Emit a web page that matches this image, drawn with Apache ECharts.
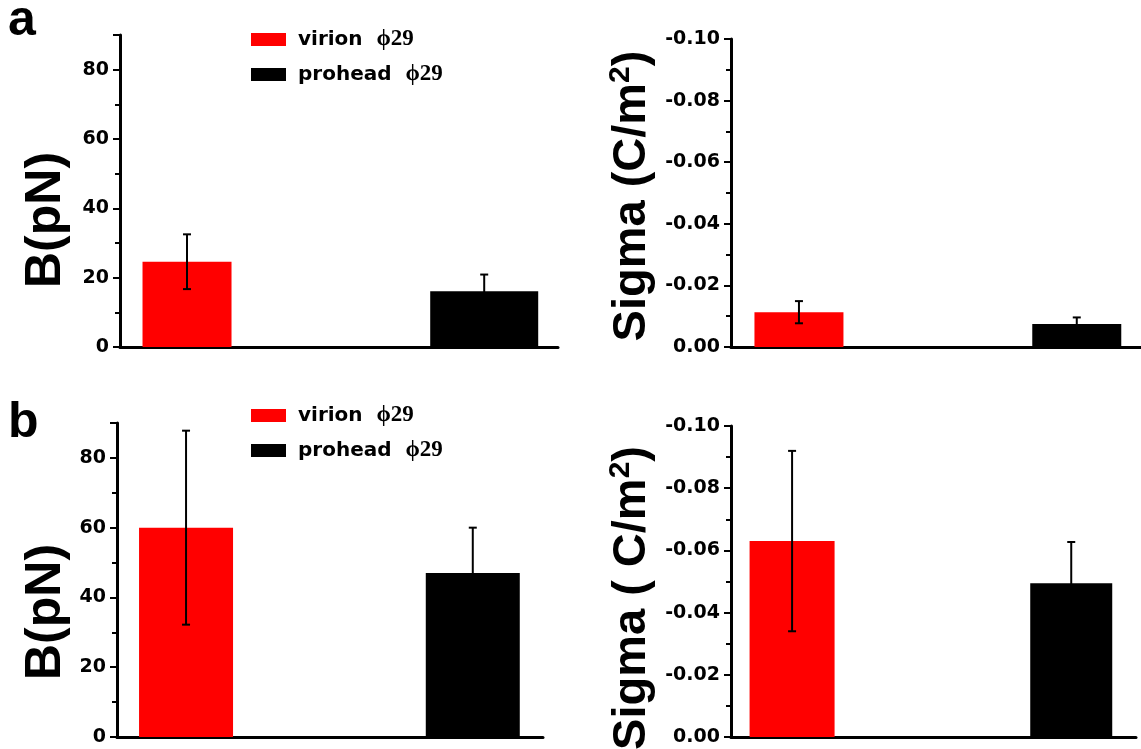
<!DOCTYPE html>
<html>
<head>
<meta charset="utf-8">
<script src="https://cdn.jsdelivr.net/npm/echarts@6/dist/echarts.min.js"></script>
<style>
  html, body { margin: 0; padding: 0; background: #fff; }
  #chart { width: 1141px; height: 749px; }
</style>
</head>
<body>
<div id="chart"></div>
<script>
// groups (one bar each per panel)
const groups = ['virion ϕ29', 'prohead ϕ29']
const groupPos = [1, 2]

// panel a
const bA = [24.6, 16.1]
const bAErr = [7.9, 4.8]
const sigmaA = [-0.0113, -0.0075]
const sigmaAErr = [0.0036, 0.0021]

// panel b
const bB = [60, 47]
const bBErr = [27.8, 13]
const sigmaB = [-0.063, -0.0494]
const sigmaBErr = [0.029, 0.0133]

// y axis ranges / ticks
const bAxis = { min: 0, max: 90, interval: 20 }
const sigmaAxis = { min: -0.1, max: 0, interval: 0.02 }

const colors = ['#ff0000', '#000000']
const tickFont = { fontFamily: 'DejaVu Sans', fontWeight: 'bold', fontSize: 19, color: '#000' }

const panels = [
    { grid: { left: 120, top: 35, width: 438, height: 312 }, xr: [0.7745, 2.2483], widths: [89, 108], vals: bA, errs: bAErr, y: 'b' },
    { grid: { left: 731, top: 39, width: 410, height: 308 }, xr: [0.7554, 2.2312], widths: [89, 89], vals: sigmaA, errs: sigmaAErr, y: 'sigma' },
    { grid: { left: 117, top: 423, width: 426, height: 314 }, xr: [0.7592, 2.2449], widths: [94, 94], vals: bB, errs: bBErr, y: 'b' },
    { grid: { left: 731, top: 426, width: 405, height: 311 }, xr: [0.7812, 2.2320], widths: [85, 82], vals: sigmaB, errs: sigmaBErr, y: 'sigma' }
]

// bar drawn from baseline 0 to value, fixed pixel width
function barRender(width) {
    return function (params, api) {
        const x = api.value(0)
        const top = api.coord([x, api.value(1)])
        const base = api.coord([x, 0])
        return {
            type: 'rect',
            shape: { x: top[0] - width / 2, y: Math.min(top[1], base[1]), width: width, height: Math.abs(base[1] - top[1]) },
            style: { fill: api.visual('color') }
        }
    }
}

function errorBar(params, api) {
    const x = api.value(0)
    const lo = api.coord([x, api.value(1)])
    const hi = api.coord([x, api.value(2)])
    const cap = 4
    const st = { stroke: '#000', lineWidth: 2 }
    return {
        type: 'group',
        children: [
            { type: 'line', shape: { x1: lo[0], y1: lo[1], x2: hi[0], y2: hi[1] }, style: st },
            { type: 'line', shape: { x1: hi[0] - cap, y1: hi[1], x2: hi[0] + cap, y2: hi[1] }, style: st },
            { type: 'line', shape: { x1: lo[0] - cap, y1: lo[1], x2: lo[0] + cap, y2: lo[1] }, style: st }
        ]
    }
}

const grid = [], xAxis = [], yAxis = [], series = []
panels.forEach((p, i) => {
    grid.push(p.grid)
    xAxis.push({
        type: 'value', gridIndex: i, min: p.xr[0], max: p.xr[1],
        axisLine: { show: true, onZero: false, lineStyle: { color: '#000', width: 3 } },
        axisTick: { show: false }, axisLabel: { show: false }, splitLine: { show: false }
    })
    const isB = p.y === 'b'
    const ax = isB ? bAxis : sigmaAxis
    yAxis.push({
        type: 'value', gridIndex: i, min: ax.min, max: ax.max, interval: ax.interval,
        inverse: !isB,
        axisLine: { show: true, onZero: false, lineStyle: { color: '#000', width: 3 } },
        axisTick: { show: true, length: 7, lineStyle: { color: '#000', width: 2 } },
        minorTick: { show: true, splitNumber: 2, length: 5, lineStyle: { color: '#000', width: 2 } },
        splitLine: { show: false },
        axisLabel: Object.assign({
            margin: 11,
            formatter: isB ? (v => (v % 20 === 0 ? String(v) : '')) : (v => v.toFixed(2))
        }, tickFont)
    })
    groups.forEach((g, k) => {
        series.push({
            name: g, type: 'custom', xAxisIndex: i, yAxisIndex: i,
            renderItem: barRender(p.widths[k]),
            itemStyle: { color: colors[k] },
            encode: { x: 0, y: 1 },
            data: [[groupPos[k], p.vals[k]]],
            z: 2
        })
    })
    series.push({
        name: 'err', type: 'custom', xAxisIndex: i, yAxisIndex: i,
        renderItem: errorBar, z: 5,
        encode: { x: 0, y: [1, 2] },
        data: groups.map((g, k) => [groupPos[k], p.vals[k] - p.errs[k], p.vals[k] + p.errs[k]])
    })
})

const legendText = {
    padding: [0, 0, 0, 7],
    rich: {
        w: { fontFamily: 'DejaVu Sans', fontWeight: 'bold', fontSize: 20, lineHeight: 13, color: '#000' },
        p: { fontFamily: 'Liberation Serif', fontWeight: 'bold', fontSize: 23, lineHeight: 13, color: '#000' }
    }
}
function legendFmt(name) {
    const parts = name.split(' ')
    return '{w|' + parts[0] + '  }{p|' + parts[1] + '}'
}
function legendAt(top) {
    return {
        data: groups, orient: 'vertical', left: 251, top: top, padding: 0,
        itemWidth: 35, itemHeight: 13, itemGap: 12, icon: 'rect',
        selectedMode: false, formatter: legendFmt, textStyle: legendText
    }
}

const nameFont = 'bold 50px "Liberation Sans"'
const sigmaRich = {
    n: { fontFamily: 'Liberation Sans', fontWeight: 'bold', fontSize: 47, lineHeight: 52, color: '#000' },
    s: { fontFamily: 'Liberation Sans', fontWeight: 'bold', fontSize: 30, lineHeight: 52, verticalAlign: 'top', color: '#000' }
}
function yName(text, x, y) {
    return { type: 'text', x: x, y: y, rotation: Math.PI / 2,
        style: { text: text, font: nameFont, fill: '#000', align: 'center', verticalAlign: 'middle' } }
}
function sigmaName(text, x, y) {
    return { type: 'text', x: x, y: y, rotation: Math.PI / 2,
        style: { text: text, rich: sigmaRich, fill: '#000', align: 'center', verticalAlign: 'middle' } }
}

const chart = echarts.init(document.getElementById('chart'))
chart.setOption({
    animation: false,
    backgroundColor: '#fff',
    legend: [legendAt(28), legendAt(404)],
    grid: grid,
    xAxis: xAxis,
    yAxis: yAxis,
    series: series,
    graphic: [
        { type: 'text', x: 8, y: 21, style: { text: 'a', font: 'bold 50px "Liberation Sans"', fill: '#000', verticalAlign: 'middle' } },
        { type: 'text', x: 8, y: 423, style: { text: 'b', font: 'bold 50px "Liberation Sans"', fill: '#000', verticalAlign: 'middle' } },
        yName('B(pN)', 46, 220),
        yName('B(pN)', 46, 612),
        sigmaName('{n|Sigma (C/m}{s|2}{n|)}', 632, 196),
        sigmaName('{n|Sigma ( C/m}{s|2}{n|)}', 632, 598)
    ]
})
</script>
</body>
</html>
